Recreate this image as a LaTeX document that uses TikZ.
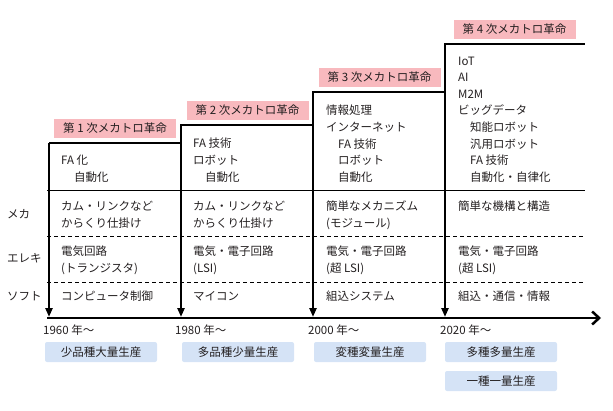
\documentclass[tikz,border=0pt]{standalone}
\usepackage{fontspec}
\setmainfont{Noto Sans CJK JP}
\usetikzlibrary{arrows.meta}
\definecolor{revpink}{RGB}{248,185,190}
\definecolor{prodblue}{RGB}{213,227,246}
\definecolor{ink}{RGB}{35,31,32}
\begin{document}
\begin{tikzpicture}[x=1pt,y=-1pt,
	every node/.style={font=\fontsize{11.5}{14}\selectfont,text=ink},
	txt/.style={anchor=west,inner sep=0pt,text height=8.8pt,text depth=0pt},
	rev/.style={fill=revpink,minimum width=122pt,minimum height=19pt,inner sep=0pt},
	prod/.style={fill=prodblue,rounded corners=2pt,minimum width=112pt,minimum height=20pt,inner sep=0pt},
	stage/.style={line width=2.5pt,-{Triangle[length=9pt,width=7pt]}},
	stair/.style={line width=2.5pt,line join=miter},
	rowline/.style={line width=1pt},
	rowdash/.style={line width=1pt,dash pattern=on 4pt off 3pt}
	]
	\useasboundingbox (0,0) rectangle (613,410);
	% row separators
	\draw[rowline] (47,190) -- (585,190);
	\draw[rowdash] (47,236) -- (585,236);
	\draw[rowdash] (47,282) -- (585,282);
	% stage outlines
	\coordinate (t1) at (49,143);
	\coordinate (t2) at (181,125);
	\coordinate (t3) at (313,92);
	\coordinate (t4) at (445,44);
	\coordinate (tend) at (585,44);
	\foreach \i/\x in {1/49,2/181,3/313,4/445} {
			\coordinate (b\i) at (\x,317);
		}
	\draw[stair] (t1) -- (t1 -| t2) -- (t2) -- (t2 -| t3) -- (t3) -- (t3 -| t4) -- (t4) -- (tend);
	\foreach \i in {1,...,4} {
			\draw[stage] (t\i) -- (b\i);
		}
	% time axis
	\coordinate (ax0) at (47,318);
	\coordinate (ax1) at (601,318);
	\draw[line width=2.5pt,-{Straight Barb[length=7pt,width=13pt]}] (ax0) -- (ax1);
	% row labels
	\node[txt] (meka) at (7,214) {メカ};
	\node[txt] (ereki) at (7,258) {エレキ};
	\node[txt] (soft) at (7,296) {ソフト};
	% revolutions
	\node[rev] (rev1) at (115,128.5) {第 1 次メカトロ革命};
	\node[rev] (rev2) at (247.5,110.5) {第 2 次メカトロ革命};
	\node[rev] (rev3) at (379.5,77) {第 3 次メカトロ革命};
	\node[rev] (rev4) at (514.5,29.5) {第 4 次メカトロ革命};
	% column 1
	\node[txt] (c1a) at (61,160) {FA 化};
	\node[txt] (c1b) at (74,177) {自動化};
	\foreach \t [count=\k] in {カム・リンクなど,からくり仕掛け} {
			\node[txt] (c1m\k) at (61,{206+17*(\k-1)}) {\t};
		}
	\node[txt] (c1e1) at (61,251) {電気回路};
	\node[txt] (c1e2) at (61,268) {(トランジスタ)};
	\node[txt] (c1s) at (61,296) {コンピュータ制御};
	% column 2
	\node[txt] (c2a) at (193,143) {FA 技術};
	\node[txt] (c2b) at (193,160) {ロボット};
	\node[txt] (c2c) at (205,177) {自動化};
	\foreach \t [count=\k] in {カム・リンクなど,からくり仕掛け} {
			\node[txt] (c2m\k) at (193,{206+17*(\k-1)}) {\t};
		}
	\node[txt] (c2e1) at (193,251) {電気・電子回路};
	\node[txt] (c2e2) at (193,268) {(LSI)};
	\node[txt] (c2s) at (193,296) {マイコン};
	% column 3
	\node[txt] (c3a) at (326,110) {情報処理};
	\node[txt] (c3b) at (326,127) {インターネット};
	\foreach \t [count=\k] in {FA 技術,ロボット,自動化} {
			\node[txt] (c3i\k) at (338,{143.6+16.7*(\k-1)}) {\t};
		}
	\node[txt] (c3m1) at (326,206) {簡単なメカニズム};
	\node[txt] (c3m2) at (326,223) {(モジュール)};
	\node[txt] (c3e1) at (326,251) {電気・電子回路};
	\node[txt] (c3e2) at (326,268) {(超 LSI)};
	\node[txt] (c3s) at (326,296) {組込システム};
	% column 4
	\foreach \t [count=\k] in {IoT,AI,M2M,ビッグデータ} {
			\node[txt] (c4a\k) at (458,{60.9+16.5*(\k-1)}) {\t};
		}
	\foreach \t [count=\k] in {知能ロボット,汎用ロボット,FA 技術,自動化・自律化} {
			\node[txt] (c4i\k) at (470,{127+16.7*(\k-1)}) {\t};
		}
	\node[txt] (c4m) at (458,206) {簡単な機構と構造};
	\node[txt] (c4e1) at (458,251) {電気・電子回路};
	\node[txt] (c4e2) at (458,268) {(超 LSI)};
	\node[txt] (c4s) at (458,296) {組込・通信・情報};
	% years and production
	\foreach \i/\x/\y in {1/43/1960,2/175/1980,3/308/2000,4/440/2020} {
			\node[txt] (year\i) at (\x,330) {\y\ 年〜};
		}
	\node[prod] (prod1) at (101,352) {少品種大量生産};
	\node[prod] (prod2) at (238,352) {多品種少量生産};
	\node[prod] (prod3) at (370,352) {変種変量生産};
	\node[prod] (prod4) at (501,352) {多種多量生産};
	\node[prod] (prod5) at (501,381) {一種一量生産};
\end{tikzpicture}
\end{document}
